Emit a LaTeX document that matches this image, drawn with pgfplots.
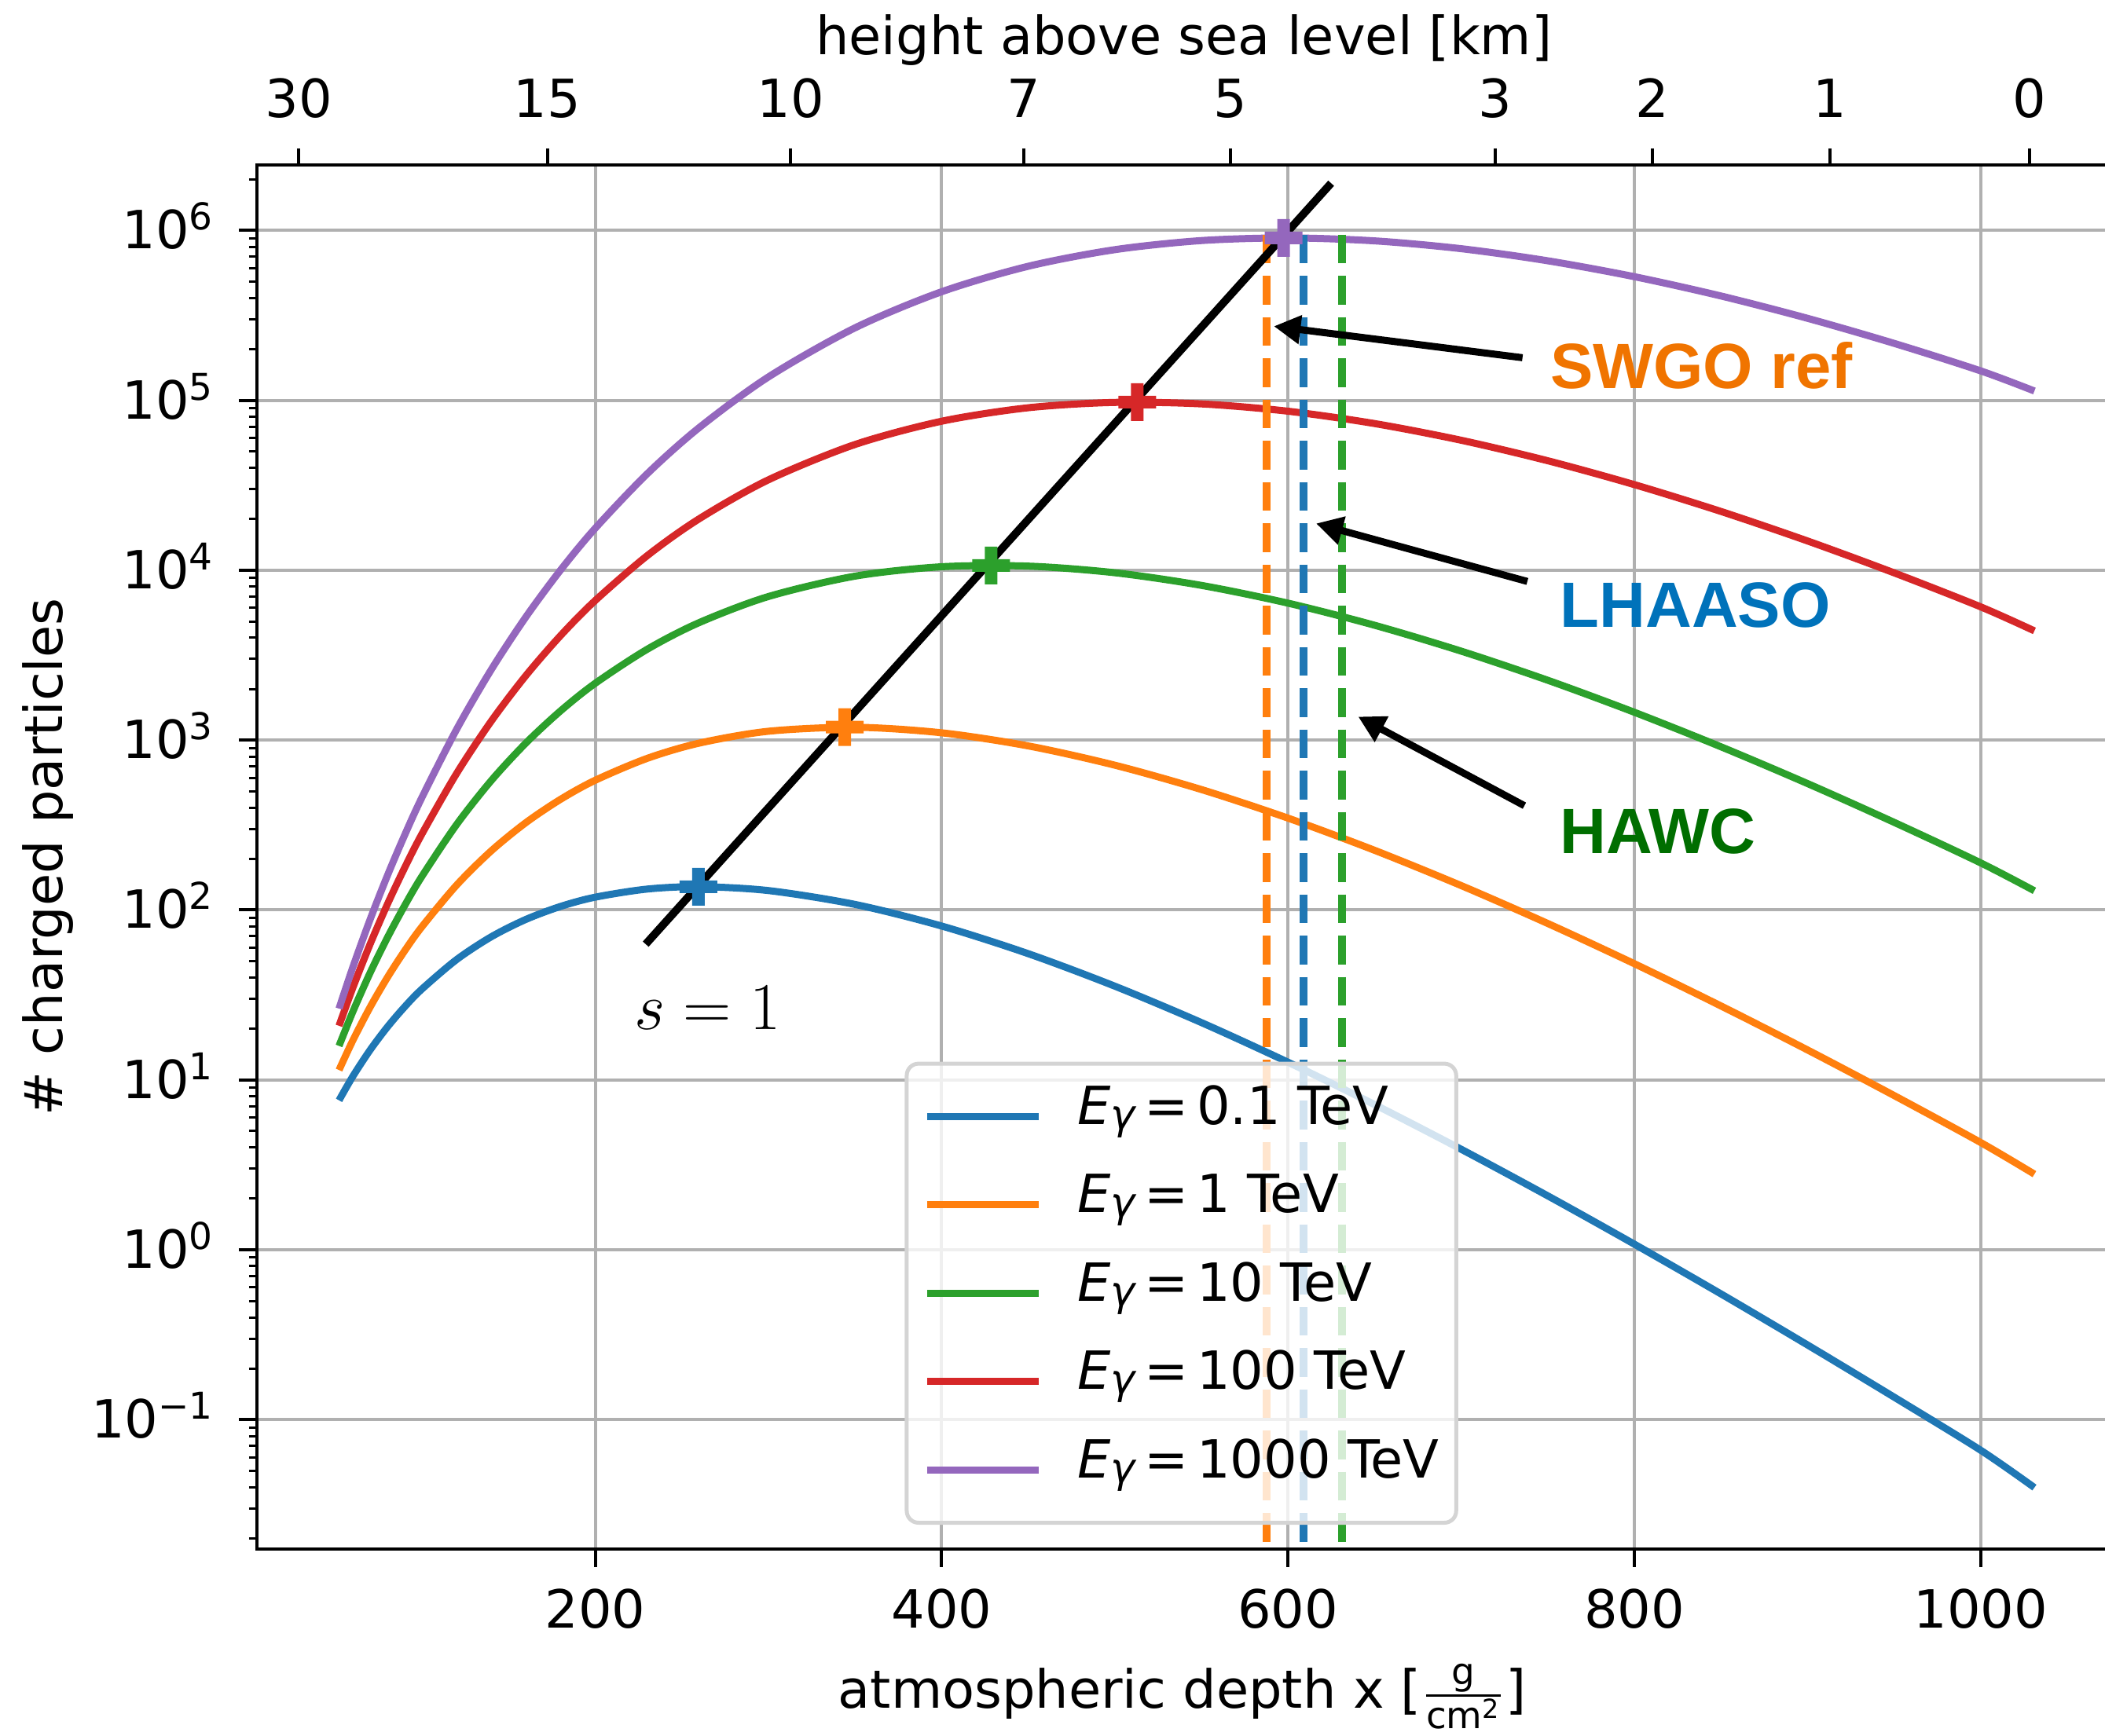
\documentclass[border=0pt]{standalone}
\usepackage{fix-cm}
\usepackage{amsmath}
\usepackage[no-math]{fontspec}
\setmainfont{DejaVu Sans}
\newfontfamily\helv{Liberation Sans}
\usepackage{pgfplots}
\pgfplotsset{compat=1.18}
\usepackage{pgfplotstable}
\usetikzlibrary{arrows.meta}

\definecolor{c1}{HTML}{1F77B4}
\definecolor{c2}{HTML}{FF7F0E}
\definecolor{c3}{HTML}{2CA02C}
\definecolor{c4}{HTML}{D62728}
\definecolor{c5}{HTML}{9467BD}
\definecolor{gridgray}{HTML}{B0B0B0}
\definecolor{swgo}{RGB}{240,116,0}
\definecolor{lhaaso}{RGB}{0,114,186}
\definecolor{hawc}{RGB}{0,110,0}

\newcommand{\supx}[1]{\raisebox{0.36em}{\fontsize{9.4}{9.4}\selectfont #1}}
\newcommand{\Eg}{\textit{E}\raisebox{-1.2pt}{\fontsize{10.5}{10.5}\selectfont\itshape γ}}

\pgfdeclareplotmark{Pplus}{%
\pgfpathmoveto{\pgfqpoint{-0.3333\pgfplotmarksize}{-\pgfplotmarksize}}%
\pgfpathlineto{\pgfqpoint{0.3333\pgfplotmarksize}{-\pgfplotmarksize}}%
\pgfpathlineto{\pgfqpoint{0.3333\pgfplotmarksize}{-0.3333\pgfplotmarksize}}%
\pgfpathlineto{\pgfqpoint{\pgfplotmarksize}{-0.3333\pgfplotmarksize}}%
\pgfpathlineto{\pgfqpoint{\pgfplotmarksize}{0.3333\pgfplotmarksize}}%
\pgfpathlineto{\pgfqpoint{0.3333\pgfplotmarksize}{0.3333\pgfplotmarksize}}%
\pgfpathlineto{\pgfqpoint{0.3333\pgfplotmarksize}{\pgfplotmarksize}}%
\pgfpathlineto{\pgfqpoint{-0.3333\pgfplotmarksize}{\pgfplotmarksize}}%
\pgfpathlineto{\pgfqpoint{-0.3333\pgfplotmarksize}{0.3333\pgfplotmarksize}}%
\pgfpathlineto{\pgfqpoint{-\pgfplotmarksize}{0.3333\pgfplotmarksize}}%
\pgfpathlineto{\pgfqpoint{-\pgfplotmarksize}{-0.3333\pgfplotmarksize}}%
\pgfpathlineto{\pgfqpoint{-0.3333\pgfplotmarksize}{-0.3333\pgfplotmarksize}}%
\pgfpathclose
\pgfusepathqfill}

% columns: atmospheric depth X, log10 of the number of charged particles for each energy
\pgfplotstableread{
X b1 b2 b3 b4 b5
52 0.87957 1.05768 1.19985 1.31817 1.41949
60 1.02091 1.23248 1.40175 1.54282 1.66375
70 1.17637 1.42862 1.63105 1.80005 1.94511
80 1.31202 1.60376 1.83854 2.03493 2.20374
90 1.43098 1.76105 2.02742 2.25068 2.44283
100 1.53559 1.90290 2.20014 2.44973 2.66483
120 1.70875 2.14743 2.50431 2.80509 3.06501
140 1.84265 2.34879 2.76271 3.11276 3.41602
160 1.94488 2.51495 2.98343 3.38097 3.72621
180 2.02109 2.65180 3.17254 3.61587 4.00182
200 2.07550 2.76379 3.33464 3.82215 4.24753
230 2.12312 2.89262 3.53486 4.08582 4.56810
260 2.13715 2.98221 3.69167 4.30286 4.83960
300 2.11420 3.05208 3.84528 4.53228 5.13801
350 2.03267 3.07562 3.96511 4.74020 5.42686
400 1.90548 3.04291 4.02049 4.87714 5.63933
450 1.74274 2.96578 4.02414 4.95643 5.78926
500 1.55150 2.85235 3.98516 4.98783 5.88698
550 1.33721 2.70898 3.91073 4.97902 5.94054
600 1.10377 2.54074 3.80620 4.93602 5.95609
650 0.85437 2.35122 3.67607 4.86333 5.93877
700 0.59155 2.14364 3.52374 4.76508 5.89274
750 0.31720 1.92049 3.35226 4.64444 5.82147
800 0.03278 1.68371 3.16382 4.50387 5.72792
850 -0.26004 1.43512 2.96064 4.34600 5.61437
900 -0.56055 1.17610 2.74416 4.17225 5.48283
950 -0.86765 0.90767 2.51591 3.98454 5.33537
1000 -1.18050 0.63112 2.27717 3.78432 5.17339
1031 -1.400 0.445 2.113 3.643 5.055
}\showers

\begin{document}
\fontsize{13.4}{16}\selectfont
\begin{tikzpicture}
\begin{axis}[
  at={(0pt,0pt)}, anchor=south west,
  scale only axis, width=473.5pt, height=352.4pt,
  xmin=4.6, xmax=1078.8,
  ymode=log, ymin=0.0173, ymax=2.43e6,
  xtick={200,400,600,800,1000},
  xticklabels={200,400,600,800,1000},
  ytick={0.1,1,10,100,1000,10000,100000,1000000},
  yticklabels={10\supx{−1},10\supx{0},10\supx{1},10\supx{2},10\supx{3},10\supx{4},10\supx{5},10\supx{6}},
  minor ytick={0.02,0.03,0.04,0.05,0.06,0.07,0.08,0.09,
    0.2,0.3,0.4,0.5,0.6,0.7,0.8,0.9,
    2,3,4,5,6,7,8,9,
    20,30,40,50,60,70,80,90,
    200,300,400,500,600,700,800,900,
    2000,3000,4000,5000,6000,7000,8000,9000,
    20000,30000,40000,50000,60000,70000,80000,90000,
    200000,300000,400000,500000,600000,700000,800000,900000,
    2000000},
  xtick pos=left, ytick pos=left,
  tick align=outside,
  major tick length=4.6pt, minor tick length=2pt,
  tick style={black, line width=0.8pt},
  minor tick style={line width=0.6pt},
  axis line style={black, line width=0.8pt},
  grid=major,
  major grid style={gridgray, line width=0.8pt},
  xticklabel style={inner sep=0pt, anchor=north, yshift=-5.34pt},
  yticklabel style={inner sep=0pt, anchor=base east, xshift=-6.46pt, yshift=-4.7pt},
  xlabel={atmospheric depth x [$\frac{\text{g}}{\text{cm}^{\text{2}}}$]},
  xlabel style={at={(axis description cs:0.4974,-0.1152)}, anchor=base, inner sep=0pt},
  ylabel={\# charged particles},
  ylabel style={at={(axis description cs:-0.10433,0.5)}, anchor=base, inner sep=0pt},
  legend style={at={(0.497,0.0176)}, anchor=south, draw=black!17, line width=1pt,
    rounded corners=3pt, fill=white, fill opacity=0.8, text opacity=1,
    inner xsep=4.3pt, inner ysep=3pt, row sep=1.72pt,
    nodes={inner xsep=0pt, inner ysep=0pt, text height=12.4pt, text depth=8.4pt}},
  legend cell align=left,
  legend image code/.code={\draw[#1, line width=1.8pt] (0pt,0pt) -- (28.5pt,0pt); \path (37.4pt,0pt);},
]
\addplot[c1, line width=1.8pt, smooth] table[x=X, y expr={10^(\thisrow{b1})}] {\showers};
\addlegendentry{\Eg\,=\,0.1 TeV}
\addplot[c2, line width=1.8pt, smooth] table[x=X, y expr={10^(\thisrow{b2})}] {\showers};
\addlegendentry{\Eg\,=\,1 TeV}
\addplot[c3, line width=1.8pt, smooth] table[x=X, y expr={10^(\thisrow{b3})}] {\showers};
\addlegendentry{\Eg\,=\,10 TeV}
\addplot[c4, line width=1.8pt, smooth] table[x=X, y expr={10^(\thisrow{b4})}] {\showers};
\addlegendentry{\Eg\,=\,100 TeV}
\addplot[c5, line width=1.8pt, smooth] table[x=X, y expr={10^(\thisrow{b5})}] {\showers};
\addlegendentry{\Eg\,=\,1000 TeV}

% shower maxima
\addplot[only marks, mark=Pplus, mark size=4.8pt, c1, forget plot] coordinates {(259.5,137.14)};
\addplot[only marks, mark=Pplus, mark size=4.8pt, c2, forget plot] coordinates {(344.0,1191.3)};
\addplot[only marks, mark=Pplus, mark size=4.8pt, c3, forget plot] coordinates {(428.5,10674)};
\addplot[only marks, mark=Pplus, mark size=4.8pt, c4, forget plot] coordinates {(513.0,97553)};
\addplot[only marks, mark=Pplus, mark size=4.8pt, c5, forget plot] coordinates {(597.5,903920)};

% observatory depths
\addplot[c2, line width=2pt, dash pattern=on 7.3pt off 3.2pt, forget plot] coordinates {(587.8,9.45e5) (587.8,0.0173)};
\addplot[c1, line width=2pt, dash pattern=on 7.3pt off 3.2pt, forget plot] coordinates {(609.1,9.45e5) (609.1,0.0173)};
\addplot[c3, line width=2pt, dash pattern=on 7.3pt off 3.2pt, forget plot] coordinates {(631.4,9.45e5) (631.4,0.0173)};

% s = 1 line
\addplot[black, line width=2pt, forget plot] coordinates {(229.1,62.95) (624.9,1.897e6)};

\draw[line width=1.8pt, -{Triangle[length=6.8pt,width=7pt]}] (axis cs:735.4,1.782e5) -- (axis cs:591.8,2.729e5);
\draw[line width=1.8pt, -{Triangle[length=6.8pt,width=7pt]}] (axis cs:738.2,8590) -- (axis cs:616.2,18840);
\draw[line width=1.8pt, -{Triangle[length=6.8pt,width=7pt]}] (axis cs:736.5,411.1) -- (axis cs:640.5,1374);

\node[anchor=base west, inner sep=0pt, text=swgo, font=\helv\bfseries\fontsize{16.3}{19}\selectfont] at (axis cs:751.1,1.172e5) {SWGO ref};
\node[anchor=base west, inner sep=0pt, text=lhaaso, font=\helv\bfseries\fontsize{16.3}{19}\selectfont] at (axis cs:756.7,4634) {LHAASO};
\node[anchor=base west, inner sep=0pt, text=hawc, font=\helv\bfseries\fontsize{16.3}{19}\selectfont] at (axis cs:756.7,214.8) {HAWC};
\node[anchor=base west, inner sep=0pt, font=\fontsize{17}{20}\selectfont] at (axis cs:222.0,19.72) {$s = 1$};
\end{axis}

\begin{axis}[
  at={(0pt,0pt)}, anchor=south west,
  scale only axis, width=473.5pt, height=352.4pt,
  xmin=4.6, xmax=1078.8, ymin=0, ymax=1,
  axis x line*=top, axis y line=none, ytick=\empty,
  xtick={28.8,172.3,312.7,447.3,566.9,719.6,810.3,912.9,1028.0},
  xticklabels={30,15,10,7,5,3,2,1,0},
  tick align=outside, major tick length=4.2pt,
  tick style={black, line width=0.8pt},
  axis line style={black, line width=0.8pt},
  xticklabel style={inner sep=0pt, anchor=base, yshift=7.8pt},
  xlabel={height above sea level [km]},
  xlabel style={at={(axis description cs:0.4983,1.0795)}, anchor=base, inner sep=0pt},
]
\addplot[draw=none, forget plot] coordinates {(100,0.5)};
\end{axis}

\pgfresetboundingbox
\path[use as bounding box] (-65.4pt,-47.6pt) rectangle (470.4pt,394.4pt);
\end{tikzpicture}
\end{document}
